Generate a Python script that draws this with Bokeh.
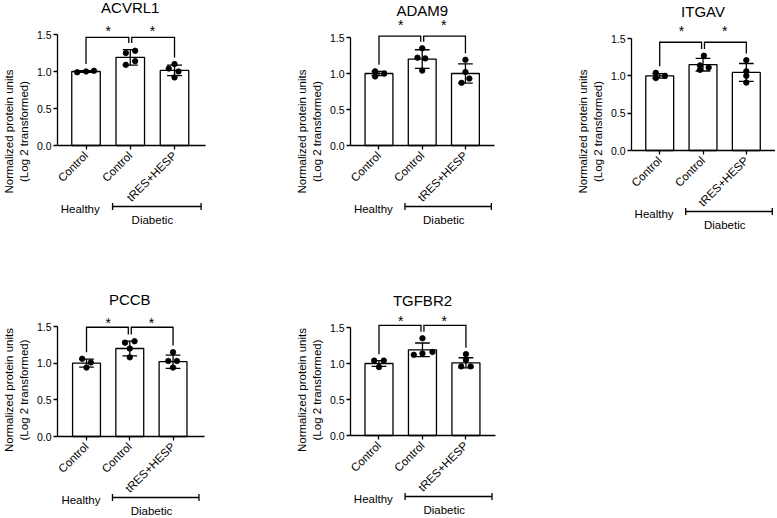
import math
from bokeh.plotting import figure
from bokeh.models import Range1d, FixedTicker, NumeralTickFormatter
from bokeh.core.properties import value
from bokeh.layouts import row, column
from bokeh.embed import file_html
from bokeh.resources import INLINE

# ---------------- data ----------------
genes = ["ACVRL1", "ADAM9", "ITGAV", "PCCB", "TGFBR2"]
tick_labels = ["Control", "Control", "tRES+HESP"]
healthy_label = "Healthy"
diabetic_label = "Diabetic"
star_text = "*"
y_axis_title = "Normalized protein units\n(Log 2 transformed)"
y_ticks = [0.0, 0.5, 1.0, 1.5]

acvrl1_mean = [1.00, 1.19, 1.015]
acvrl1_sd = [0.012, 0.105, 0.07]
acvrl1_points = [[0.99, 1.00, 1.01], [1.25, 1.28, 1.14, 1.09], [1.10, 1.04, 1.00, 0.92]]
acvrl1_jitter = [[-0.20, 0.0, 0.18], [-0.10, 0.11, 0.11, -0.10], [0.0, -0.13, 0.09, 0.0]]

adam9_mean = [1.00, 1.20, 1.00]
adam9_sd = [0.03, 0.13, 0.135]
adam9_points = [[1.03, 0.96, 1.00], [1.35, 1.22, 1.21, 1.04], [1.19, 1.02, 0.93, 0.87]]
adam9_jitter = [[-0.09, -0.09, 0.12], [0.0, -0.11, 0.07, 0.0], [0.0, 0.0, 0.09, -0.09]]

itgav_mean = [1.00, 1.15, 1.045]
itgav_sd = [0.03, 0.085, 0.12]
itgav_points = [[1.04, 0.97, 1.00], [1.27, 1.14, 1.08, 1.11], [1.21, 1.06, 1.00, 0.91]]
itgav_jitter = [[-0.09, -0.09, 0.12], [0.02, -0.07, -0.07, 0.13], [0.0, 0.0, 0.0, 0.0]]

pccb_mean = [1.00, 1.20, 1.02]
pccb_sd = [0.055, 0.10, 0.09]
pccb_points = [[1.06, 1.01, 0.94], [1.28, 1.30, 1.20, 1.08], [1.15, 1.03, 1.03, 0.94]]
pccb_jitter = [[-0.10, 0.10, 0.0], [-0.11, 0.11, 0.0, 0.0], [0.0, -0.11, 0.09, 0.0]]

tgfbr2_mean = [1.00, 1.19, 1.01]
tgfbr2_sd = [0.04, 0.095, 0.07]
tgfbr2_points = [[1.04, 1.04, 0.95], [1.35, 1.12, 1.14, 1.16], [1.13, 1.05, 0.96, 0.96]]
tgfbr2_jitter = [[-0.11, 0.11, 0.0], [0.0, -0.20, 0.0, 0.23], [0.0, 0.0, -0.11, 0.11]]

# significance bracket levels and star levels
bracket_level = [1.46, 1.52, 1.45, 1.49, 1.53]
star_level = [1.58, 1.71, 1.64, 1.58, 1.63]

FONT = "Liberation Sans"
BLACK = "#000000"
LW = 1.3
LEFT = 53


def panel(idx, means, sds, points, jitter, W, H, y15_px, y0_px,
          spacing, offset, axis_px, diab_end=2.6):
    name = genes[idx]
    fw = W - LEFT
    ppu = (y0_px - y15_px) / 1.5
    x0 = -offset / spacing
    x1 = x0 + fw / spacing
    ymax = 1.5 + y15_px / ppu
    ymin = -(H - y0_px) / ppu
    p = figure(width=W, height=H, x_range=Range1d(x0, x1), y_range=Range1d(ymin, ymax),
               output_backend="svg", toolbar_location=None, tools="", title=None,
               min_border_left=LEFT, min_border_right=0,
               min_border_top=0, min_border_bottom=0)
    p.outline_line_color = None
    p.grid.visible = False
    p.background_fill_color = "white"
    p.border_fill_color = "white"

    xs = list(range(len(means)))
    # bars
    p.vbar(x=xs, top=means, bottom=0, width=29 / 45, fill_color="white",
           line_color=BLACK, line_width=LW)
    # error bars
    cap = 0.17
    lo = [m - s for m, s in zip(means, sds)]
    hi = [m + s for m, s in zip(means, sds)]
    p.segment(x0=xs, y0=lo, x1=xs, y1=hi, line_color=BLACK, line_width=LW)
    p.segment(x0=[x - cap for x in xs], y0=hi, x1=[x + cap for x in xs], y1=hi,
              line_color=BLACK, line_width=LW)
    p.segment(x0=[x - cap for x in xs], y0=lo, x1=[x + cap for x in xs], y1=lo,
              line_color=BLACK, line_width=LW)
    # points
    px, py = [], []
    for g, (vals, jit) in enumerate(zip(points, jitter)):
        for v, j in zip(vals, jit):
            px.append(g + j)
            py.append(v)
    p.scatter(x=px, y=py, size=5.5, fill_color=BLACK, line_color=BLACK, line_width=0.8)

    # significance brackets
    by = bracket_level[idx]
    tops = [max(max(v), m + s) + 0.09 for v, m, s in zip(points, means, sds)]
    d = 1.5 / spacing
    bxs, bys = [], []
    for a, b in [(0, 1), (1, 2)]:
        xa = a + (d if a == 1 else 0)
        xb = b - (d if b == 1 else 0)
        bxs.append([xa, xa, xb, xb])
        bys.append([tops[a], by, by, tops[b]])
    p.multi_line(xs=bxs, ys=bys, line_color=BLACK, line_width=LW, line_join="miter")
    sy = star_level[idx] - 2.7 / ppu
    p.text(x=[0.5, 1.5], y=[sy, sy], text=[star_text, star_text],
           text_align="center", text_baseline="middle",
           text_font=value(FONT), text_font_size=value("14px"), text_color=BLACK)
    # title
    p.text(x=[1], y=[1.5 + 27 / ppu], text=[name], text_align="center",
           text_baseline="middle", text_font=value(FONT), text_font_size=value("15px"),
           text_color=BLACK)
    # group annotation below axis
    p.text(x=[-0.13], y=[-63 / ppu], text=[healthy_label], text_align="center",
           text_baseline="middle", text_font=value(FONT), text_font_size=value("11.5px"),
           text_color=BLACK)
    yb = -61 / ppu
    ch = 3.5 / ppu
    p.segment(x0=[0.6, 0.6, diab_end], y0=[yb, yb - ch, yb - ch],
              x1=[diab_end, 0.6, diab_end], y1=[yb, yb + ch, yb + ch],
              line_color=BLACK, line_width=LW)
    p.text(x=[1.5], y=[-74 / ppu], text=[diabetic_label], text_align="center",
           text_baseline="middle", text_font=value(FONT), text_font_size=value("11.5px"),
           text_color=BLACK)

    # axes
    p.xaxis.fixed_location = 0
    p.xaxis.bounds = (x0, x0 + axis_px / spacing)
    p.xaxis.ticker = FixedTicker(ticks=xs)
    p.xaxis.major_label_overrides = {i: t for i, t in enumerate(tick_labels)}
    p.xaxis.major_label_orientation = math.pi / 4
    p.yaxis.bounds = (0, 1.5)
    p.yaxis.ticker = FixedTicker(ticks=y_ticks)
    p.yaxis.formatter = NumeralTickFormatter(format="0.0")
    p.yaxis.axis_label = y_axis_title
    for ax in (p.xaxis[0], p.yaxis[0]):
        ax.axis_line_color = BLACK
        ax.axis_line_width = LW
        ax.major_tick_line_color = BLACK
        ax.major_tick_line_width = LW
        ax.major_tick_in = 0
        ax.major_tick_out = 4
        ax.minor_tick_line_color = None
        ax.major_label_text_font = FONT
        ax.major_label_text_color = BLACK
        ax.axis_label_text_font = FONT
        ax.axis_label_text_font_style = "normal"
        ax.axis_label_text_color = BLACK
    p.xaxis.major_label_text_font_size = "11.5px"
    p.xaxis.major_label_standoff = 4
    p.yaxis.major_label_text_font_size = "10.5px"
    p.yaxis.major_label_standoff = 2
    p.yaxis.axis_label_text_font_size = "11.5px"
    p.yaxis.axis_label_standoff = 4
    return p


H1 = 262
H2 = 255
f1 = panel(0, acvrl1_mean, acvrl1_sd, acvrl1_points, acvrl1_jitter,
           W=293, H=H1, y15_px=34, y0_px=145, spacing=45, offset=29, axis_px=151)
f2 = panel(1, adam9_mean, adam9_sd, adam9_points, adam9_jitter,
           W=281, H=H1, y15_px=37, y0_px=145, spacing=44, offset=29, axis_px=147)
f3 = panel(2, itgav_mean, itgav_sd, itgav_points, itgav_jitter,
           W=201, H=H1, y15_px=38, y0_px=150, spacing=44.5, offset=29, axis_px=150)
f4 = panel(3, pccb_mean, pccb_sd, pccb_points, pccb_jitter,
           W=293, H=H2, y15_px=326 - H1, y0_px=436 - H1, spacing=44, offset=29.5,
           axis_px=149)
f5 = panel(4, tgfbr2_mean, tgfbr2_sd, tgfbr2_points, tgfbr2_jitter,
           W=281, H=H2, y15_px=327 - H1, y0_px=437 - H1 - 2, spacing=44.25, offset=29,
           axis_px=148)

layout = column(row(f1, f2, f3), row(f4, f5))
open("out.html", "w").write(file_html(layout, INLINE))
